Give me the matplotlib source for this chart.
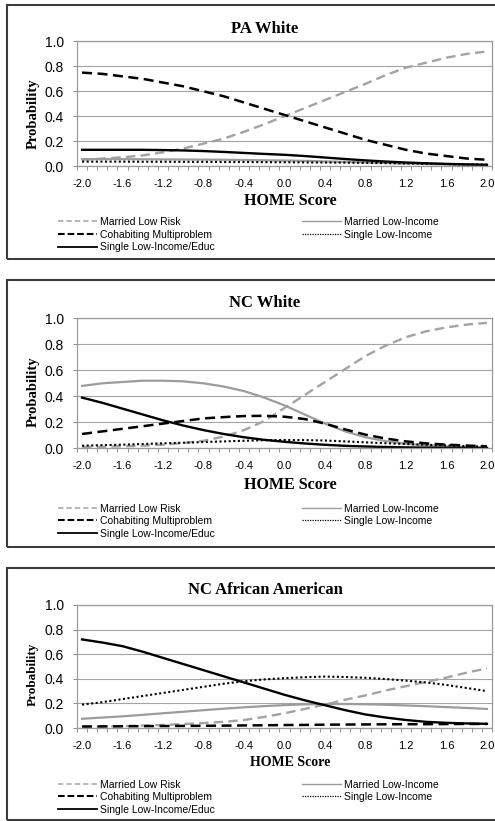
import matplotlib.pyplot as plt
from matplotlib.lines import Line2D
from matplotlib.patches import Rectangle

# HOME score categories (one point every 0.2)
home_score = [-2.0, -1.8, -1.6, -1.4, -1.2, -1.0, -0.8, -0.6, -0.4, -0.2, 0.0,
              0.2, 0.4, 0.6, 0.8, 1.0, 1.2, 1.4, 1.6, 1.8, 2.0]
x_tick_values = [-2.0, -1.6, -1.2, -0.8, -0.4, 0.0, 0.4, 0.8, 1.2, 1.6, 2.0]
x_tick_labels = ['-2.0', '-1.6', '-1.2', '-0.8', '-0.4', '0.0', '0.4', '0.8', '1.2', '1.6', '2.0']
y_tick_values = [0.0, 0.2, 0.4, 0.6, 0.8, 1.0]
y_tick_labels = ['0.0', '0.2', '0.4', '0.6', '0.8', '1.0']

# PA White
pa_married_low_risk = [.05, .06, .07, .085, .11, .14, .18, .22, .275, .335, .40,
                       .465, .53, .595, .66, .73, .79, .83, .87, .90, .92]
pa_married_low_income = [.055, .055, .055, .054, .053, .052, .051, .05, .048, .046, .044,
                         .041, .037, .033, .029, .024, .02, .016, .013, .01, .008]
pa_cohabiting = [.75, .74, .72, .70, .67, .64, .60, .56, .51, .46, .41,
                 .36, .31, .26, .21, .17, .13, .10, .08, .06, .05]
pa_single_low_income = [.035, .035, .035, .034, .034, .033, .033, .032, .032, .031, .03,
                        .029, .028, .027, .025, .023, .021, .018, .015, .012, .01]
pa_single_educ = [.13, .13, .13, .13, .128, .125, .12, .113, .105, .097, .09,
                  .08, .068, .056, .045, .036, .028, .022, .017, .013, .01]

# NC White
ncw_married_low_risk = [.01, .012, .015, .02, .028, .04, .058, .09, .14, .21, .31,
                        .41, .51, .61, .71, .79, .855, .90, .93, .952, .965]
ncw_married_low_income = [.48, .50, .51, .52, .52, .515, .50, .475, .44, .39, .33,
                          .26, .19, .13, .085, .055, .035, .022, .014, .009, .005]
ncw_cohabiting = [.11, .13, .15, .17, .19, .21, .23, .24, .248, .25, .243,
                  .225, .19, .145, .105, .075, .053, .038, .028, .021, .016]
ncw_single_low_income = [.02, .024, .028, .033, .038, .043, .048, .053, .058, .062, .064,
                         .063, .06, .053, .046, .039, .033, .027, .022, .017, .013]
ncw_single_educ = [.39, .35, .305, .26, .215, .175, .14, .11, .085, .065, .05,
                   .037, .027, .019, .014, .01, .007, .005, .004, .003, .002]

# NC African American
ncaa_married_low_risk = [.01, .012, .015, .02, .025, .032, .04, .05, .065, .09, .12,
                         .155, .19, .23, .265, .305, .34, .375, .41, .45, .485]
ncaa_married_low_income = [.075, .085, .095, .107, .12, .132, .145, .157, .168, .178, .186,
                           .192, .195, .195, .193, .189, .183, .177, .17, .163, .155]
ncaa_cohabiting = [.012, .013, .014, .015, .016, .017, .018, .019, .021, .022, .024,
                   .025, .027, .028, .029, .03, .031, .031, .032, .033, .033]
ncaa_single_low_income = [.19, .21, .235, .26, .285, .31, .335, .36, .38, .395, .405,
                          .413, .418, .415, .408, .398, .385, .37, .35, .325, .30]
ncaa_single_educ = [.72, .695, .665, .62, .57, .52, .47, .42, .37, .32, .27,
                    .225, .185, .145, .11, .085, .065, .05, .042, .037, .034]

W, H = 495.0, 821.0
SANS = 'Liberation Sans'
SERIF = 'Liberation Serif'
GRAY = '#a3a3a3'


def fx(px):
    return px / W


def fy(py):
    return 1 - py / H


def draw_panel(fig, title, series, box, plot, title_y, xlabel_y, ylabel_y,
               legend_y, xlabel_size=11.5, ylabel_size=10.5):
    mlr, mli, cm, sli, slie = series
    # outer frame of the chart (runs off the right edge like the original)
    fig.add_artist(Rectangle((fx(7), fy(box[1])), 1.2, (box[1] - box[0]) / H,
                             transform=fig.transFigure, fill=False,
                             ec='#3c3c3c', lw=1.5, clip_on=False))

    left, right, top, bottom = plot
    ax = fig.add_axes([fx(left), fy(bottom), (right - left) / W, (bottom - top) / H])
    ax.plot(home_score, mlr, color=GRAY, lw=1.7, dashes=(4, 2.2))
    ax.plot(home_score, mli, color='#9c9c9c', lw=1.6)
    ax.plot(home_score, cm, color='black', lw=1.8, dashes=(4, 2.2))
    ax.plot(home_score, slie, color='black', lw=1.7)
    ax.plot(home_score, sli, color='black', lw=1.5, dashes=(1, 1.2))

    ax.set_xlim(-2.05, 2.05)
    ax.set_ylim(0, 1)
    ax.set_yticks(y_tick_values)
    ax.set_yticklabels(y_tick_labels, fontsize=10, family=SANS)
    ax.set_xticks(x_tick_values)
    ax.set_xticklabels(x_tick_labels, fontsize=8, family=SANS)
    ax.set_xticks([-2.05 + 0.1 * k for k in range(42)], minor=True)
    ax.tick_params(axis='x', which='major', length=0, pad=9.5)
    ax.tick_params(axis='x', which='minor', length=3, width=0.7, color='#909090',
                   direction='out')
    ax.tick_params(axis='y', length=3, width=0.7, color='#909090', pad=6.5)
    ax.yaxis.grid(True, color=GRAY, lw=0.8)
    ax.set_axisbelow(True)
    for s in ax.spines.values():
        s.set_color('#999999')
        s.set_linewidth(0.9)

    fig.text(fx(265), fy(title_y), title, ha='center', va='center',
             fontsize=12, fontweight='bold', family=SERIF)
    fig.text(fx(290), fy(xlabel_y), 'HOME Score', ha='center', va='center',
             fontsize=xlabel_size, fontweight='bold', family=SERIF)
    fig.text(fx(33), fy(ylabel_y), 'Probability', ha='center', va='center',
             rotation=90, fontsize=ylabel_size, fontweight='bold', family=SERIF)

    h_mlr = Line2D([], [], color=GRAY, lw=1.1, dashes=(3.5, 2))
    h_mli = Line2D([], [], color='#9c9c9c', lw=1.0)
    h_cm = Line2D([], [], color='black', lw=1.5, dashes=(3.2, 1.4))
    h_sli = Line2D([], [], color='black', lw=0.9, dashes=(1, 1))
    h_slie = Line2D([], [], color='black', lw=1.3)
    opts = dict(loc='upper left', frameon=False, borderpad=0, borderaxespad=0,
                handlelength=3.7, handletextpad=0.3, labelspacing=0.25,
                prop={'family': SANS, 'size': 7.5})
    fig.legend([h_mlr, h_cm, h_slie],
               ['Married Low Risk', 'Cohabiting Multiproblem', 'Single Low-Income/Educ'],
               bbox_to_anchor=(fx(58), fy(legend_y)), **opts)
    fig.legend([h_mli, h_sli], ['Married Low-Income', 'Single Low-Income'],
               bbox_to_anchor=(fx(302), fy(legend_y)), **opts)
    return ax


fig = plt.figure(figsize=(4.95, 8.21), dpi=100)

draw_panel(fig, 'PA White',
           [pa_married_low_risk, pa_married_low_income, pa_cohabiting,
            pa_single_low_income, pa_single_educ],
           box=(5, 259), plot=(77, 492, 41.5, 166), title_y=29, xlabel_y=201,
           ylabel_y=114, legend_y=217)
draw_panel(fig, 'NC White',
           [ncw_married_low_risk, ncw_married_low_income, ncw_cohabiting,
            ncw_single_low_income, ncw_single_educ],
           box=(280, 547), plot=(77, 492, 318.3, 448.3), title_y=303, xlabel_y=485,
           ylabel_y=392, legend_y=503.5)
draw_panel(fig, 'NC African American',
           [ncaa_married_low_risk, ncaa_married_low_income, ncaa_cohabiting,
            ncaa_single_low_income, ncaa_single_educ],
           box=(568, 820), plot=(77, 492, 605, 728), title_y=590, xlabel_y=762,
           ylabel_y=674, legend_y=779.5, xlabel_size=10, ylabel_size=9.5)

fig.savefig('out.png', dpi=100)
